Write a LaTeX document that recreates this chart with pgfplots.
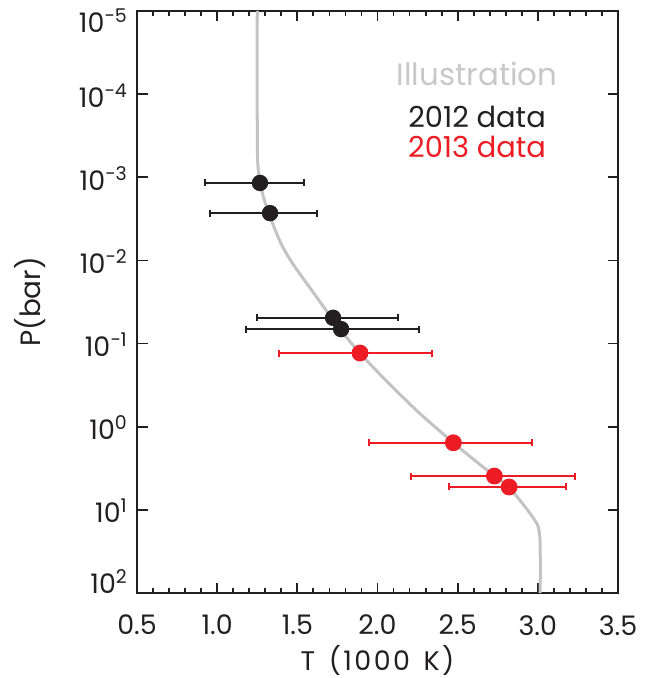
\documentclass[border=0pt]{standalone}
\usepackage{pgfplots}
\pgfplotsset{compat=1.18}
\usepackage{pgfplotstable}
\usepackage{fontspec}
\setmainfont{Poppins}
\newfontfamily\widefont[LetterSpace=9]{Poppins}
\definecolor{cblack}{RGB}{35,31,32}
\definecolor{cred}{RGB}{237,28,36}
\definecolor{cgray}{RGB}{195,195,195}
\definecolor{tgray}{RGB}{200,200,200}
\newcommand\tp[1]{10\raisebox{10bp}{\fontsize{19}{19}\selectfont #1}}

\pgfplotstableread{
T P
1.250 1e-5
1.250 2.05e-4
1.251 5.1e-4
1.256 7.94e-4
1.267 1.11e-3
1.288 1.71e-3
1.322 2.69e-3
1.362 4.31e-3
1.408 6.84e-3
1.470 0.01084
1.543 0.01718
1.626 0.02858
1.708 0.0475
1.785 0.0746
1.891 0.131
2.030 0.251
2.133 0.396
2.263 0.690
2.470 1.54
2.629 2.75
2.729 3.88
2.816 5.27
2.920 9.16
2.993 14.5
3.008 18.2
3.014 23.1
3.015 31.6
3.015 100
}\curve

\pgfplotstableread{
T P em ep
1.267 1.17e-3 0.343 0.275
1.330 2.7e-3 0.375 0.293
1.723 0.049 0.474 0.403
1.773 0.067 0.595 0.486
}\dataA

\pgfplotstableread{
T P em ep
1.891 0.130 0.505 0.449
2.473 1.56 0.524 0.492
2.729 3.92 0.522 0.503
2.821 5.31 0.375 0.355
}\dataB

\begin{document}
\begin{tikzpicture}
\useasboundingbox (0,0) rectangle (660bp,678bp);
\begin{axis}[
  at={(137bp,85bp)}, anchor=south west,
  scale only axis, width=481bp, height=582bp,
  xmin=0.5, xmax=3.5,
  ymode=log, ymin=1e-5, ymax=1e2, y dir=reverse,
  axis line style={line width=2.4bp, color=cblack},
  every tick/.style={line width=1.8bp, color=cblack},
  tick align=inside,
  major tick length=10.5bp, minor tick length=5bp,
  xtick={0.5,1,1.5,2,2.5,3,3.5},
  xticklabels={0.5,1.0,1.5,2.0,2.5,3.0,3.5},
  minor x tick num=4,
  ytick={1e-5,1e-4,1e-3,1e-2,1e-1,1e0,1e1,1e2},
  yticklabels={\raisebox{-8.5bp}{\tp{−5}},\tp{−4},\tp{−3},\tp{−2},\tp{−1},\tp{0},\tp{1},\raisebox{13bp}{\tp{2}}},
  yminorticks=false,
  tick label style={font=\fontsize{27}{27}\selectfont, text=cblack},
  xticklabel style={anchor=north, inner sep=0pt, yshift=-22bp},
  yticklabel style={anchor=base east, inner sep=0pt, xshift=-10bp, yshift=-13bp},
  xlabel={T\hspace{0.15em} (1000\hspace{0.15em} K)}, ylabel={P(bar)},
  xlabel style={font=\widefont\fontsize{27}{27}\selectfont, text=cblack, at={(axis description cs:0.5,-0.1151)}, anchor=center},
  ylabel style={font=\fontsize{28}{28}\selectfont, text=cblack, at={(axis description cs:-0.2225,0.5)}, anchor=center},
  clip=false,
]
\addplot[cgray, line width=3bp, smooth, no marks] table[x=T,y=P] {\curve};
\addplot[cblack, line width=1.8bp, only marks, mark=*, mark size=7.3bp,
  error bars/.cd, x dir=both, x explicit,
  error bar style={line width=1.8bp, cblack},
  error mark options={rotate=90, line width=1.8bp, mark size=3.5bp, cblack}]
  table[x=T, y=P, x error plus=ep, x error minus=em] {\dataA};
\addplot[cred, line width=1.8bp, only marks, mark=*, mark size=7.5bp,
  error bars/.cd, x dir=both, x explicit,
  error bar style={line width=1.8bp, cred},
  error mark options={rotate=90, line width=1.8bp, mark size=3.5bp, cred}]
  table[x=T, y=P, x error plus=ep, x error minus=em] {\dataB};
\node[text=tgray, font=\fontsize{31}{31}\selectfont, anchor=center] at (rel axis cs:0.707,0.892) {Illustration};
\node[text=cblack, font=\fontsize{29}{29}\selectfont, anchor=center] at (rel axis cs:0.707,0.818) {2012 data};
\node[text=cred, font=\fontsize{29}{29}\selectfont, anchor=center] at (rel axis cs:0.707,0.766) {2013 data};
\end{axis}
\end{tikzpicture}
\end{document}
